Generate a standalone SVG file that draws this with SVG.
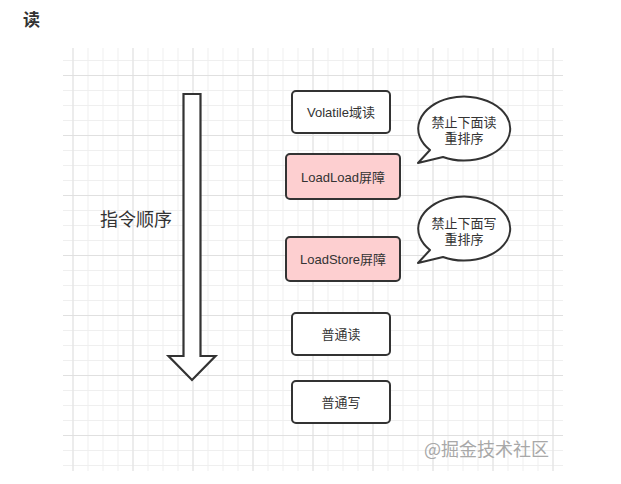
<svg xmlns="http://www.w3.org/2000/svg" width="621" height="484" viewBox="0 0 621 484">
<defs>
<pattern id="minor" x="72.5" y="60" width="15" height="15" patternUnits="userSpaceOnUse">
<path d="M0.5,0 V15 M0,0.5 H15" stroke="#efefef" stroke-width="1" fill="none"/>
</pattern>
<pattern id="major" x="72.5" y="75" width="60" height="60" patternUnits="userSpaceOnUse">
<path d="M0.5,0 V60 M0,0.5 H60" stroke="#e0e0e0" stroke-width="1" fill="none"/>
</pattern>
</defs>
<style>
.box{fill:#ffffff;stroke:#333333;stroke-width:2}
.pink{fill:#fdcfd0;stroke:#333333;stroke-width:2}
.bub{fill:#ffffff;stroke:#333333;stroke-width:2;stroke-linejoin:round}
.t{font-family:"Liberation Sans","Noto Sans CJK SC",sans-serif;font-size:13px;fill:#333333;text-anchor:middle;dominant-baseline:central}
</style>
<rect width="621" height="484" fill="#ffffff"/>
<rect x="63" y="48" width="500" height="423" fill="url(#minor)"/>
<rect x="63" y="48" width="500" height="423" fill="url(#major)"/>
<text x="23" y="26" font-family="'Noto Sans CJK SC',sans-serif" font-size="17" font-weight="bold" fill="#333333">读</text>
<g id="order-arrow">
<path d="M183.5,94 H200.5 V356 H215.5 L192,380 L168.5,356 H183.5 Z" fill="#ffffff" stroke="#333333" stroke-width="2.2" stroke-linejoin="miter"/>
<text x="136" y="218" font-family="'Noto Sans CJK SC',sans-serif" font-size="18" fill="#333333" text-anchor="middle" dominant-baseline="central">指令顺序</text>
</g>
<g id="connectors"></g>
<g id="volatile-read">
<rect class="box" x="292" y="91" width="98" height="42" rx="4"/>
<text class="t" x="341" y="112">Volatile域读</text>
</g>
<g id="loadload">
<rect class="pink" x="286" y="154" width="114" height="45" rx="4"/>
<text class="t" x="343" y="177">LoadLoad屏障</text>
</g>
<g id="loadstore">
<rect class="pink" x="286" y="237" width="114" height="44" rx="4"/>
<text class="t" x="343" y="259">LoadStore屏障</text>
</g>
<g id="normal-read">
<rect class="box" x="292" y="313" width="98" height="42" rx="4"/>
<text class="t" x="341" y="334">普通读</text>
</g>
<g id="normal-write">
<rect class="box" x="292" y="381" width="98" height="42" rx="4"/>
<text class="t" x="341" y="402">普通写</text>
</g>
<g id="bubble1">
<path class="bub" d="M430,150 L418,163 L443,157 A46,32 0 1 0 430,150 Z"/>
<text class="t" x="464" y="122">禁止下面读</text>
<text class="t" x="464" y="138">重排序</text>
</g>
<g id="bubble2">
<path class="bub" d="M430,250 L418,263 L443,257 A46,32 0 1 0 430,250 Z"/>
<text class="t" x="464" y="223">禁止下面写</text>
<text class="t" x="464" y="239">重排序</text>
</g>
<text x="424" y="448" font-family="'Noto Sans CJK SC',sans-serif" font-size="18" fill="#a8a8a8" dominant-baseline="central">@掘金技术社区</text>
</svg>
